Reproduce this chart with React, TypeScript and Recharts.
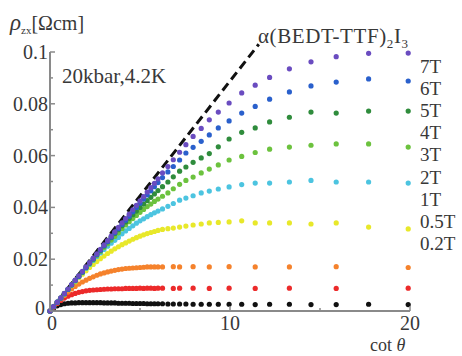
import React from 'react';
import {
  ComposedChart, Scatter, XAxis, YAxis, ReferenceLine,
} from 'recharts';

// cot(theta) positions of the measured points (shared by every field)
const cotTheta = [
  0, 0.2, 0.4, 0.6, 0.8, 1.0, 1.2, 1.4, 1.6, 1.8,
  2.0, 2.2, 2.4, 2.6, 2.8, 3.0, 3.2, 3.4, 3.6, 3.8,
  4.0, 4.2, 4.4, 4.6, 4.8, 5.0, 5.2, 5.4, 5.6, 5.8,
  6.0, 6.25, 6.55, 6.85, 7.2, 7.55, 7.95, 8.4, 8.85, 9.35,
  9.95, 10.65, 11.4, 12.2, 13.3, 14.5, 15.9, 17.7, 19.9,
];

// rho_zx [Ohm cm] for each field, same order as cotTheta (null = no point)
const rho7T = [
  0, 0.0017, 0.0034, 0.0051, 0.0068, 0.0085, 0.0102, 0.0119, 0.0136, 0.0153,
  0.017, 0.0187, 0.0204, 0.0221, 0.0238, 0.0255, 0.0272, 0.0289, 0.0306, 0.0323,
  0.034, 0.0357, 0.0374, 0.0391, 0.0408, 0.0425, 0.0442, 0.0459, 0.0476, 0.0493,
  0.051, 0.0533, 0.0558, 0.0584, 0.0613, 0.0642, 0.0674, 0.0705, 0.0738, 0.0768,
  0.0803, 0.0842, 0.0872, 0.0902, 0.0935, 0.0962, 0.0982, 0.0995, 0.0996,
];
const rho6T = [
  0, 0.0017, 0.0034, 0.005, 0.0067, 0.0084, 0.0101, 0.0118, 0.0134, 0.0151,
  0.0168, 0.0185, 0.0201, 0.0218, 0.0235, 0.0252, 0.0268, 0.0285, 0.0302, 0.0318,
  0.0334, 0.035, 0.0366, 0.0383, 0.04, 0.0416, 0.0432, 0.0448, 0.0464, 0.048,
  0.0496, 0.0515, 0.0537, 0.0558, 0.0583, 0.061, 0.0632, 0.0655, 0.068, 0.0707,
  0.0734, 0.0764, 0.079, 0.0818, 0.0846, 0.0869, 0.0884, 0.0896, 0.0888,
];
const rho5T = [
  0, 0.0017, 0.0034, 0.005, 0.0067, 0.0084, 0.0101, 0.0118, 0.0134, 0.0151,
  0.0168, 0.0185, 0.0201, 0.0218, 0.0235, 0.0251, 0.0267, 0.0283, 0.0299, 0.0314,
  0.0329, 0.0344, 0.0358, 0.0372, 0.0386, 0.04, 0.0413, 0.0426, 0.0439, 0.0452,
  0.0465, 0.048, 0.0498, 0.0518, 0.054, 0.0556, 0.0574, 0.0591, 0.0608, 0.0634,
  0.0664, 0.069, 0.0707, 0.073, 0.0748, 0.0768, 0.0764, 0.0772, 0.0772,
];
const rho4T = [
  0, 0.0017, 0.0033, 0.005, 0.0067, 0.0083, 0.01, 0.0116, 0.0133, 0.0149,
  0.0166, 0.0182, 0.0198, 0.0214, 0.023, 0.0245, 0.026, 0.0274, 0.0288, 0.0302,
  0.0318, 0.0332, 0.0345, 0.0357, 0.0369, 0.0381, 0.0392, 0.0403, 0.0413, 0.0423,
  0.0432, 0.0443, 0.0456, 0.0472, 0.0489, 0.0504, 0.0517, 0.0533, 0.0548, 0.0564,
  0.0583, 0.0597, 0.0612, 0.0625, 0.0633, 0.064, 0.0645, 0.0645, 0.0633,
];
const rho3T = [
  0, 0.0017, 0.0033, 0.005, 0.0066, 0.0083, 0.0099, 0.0116, 0.0132, 0.0148,
  0.0164, 0.018, 0.0195, 0.021, 0.0224, 0.0237, 0.025, 0.0262, 0.0273, 0.0284,
  0.0298, 0.0309, 0.0319, 0.0329, 0.0339, 0.0348, 0.0356, 0.0364, 0.0372, 0.0379,
  0.0386, 0.0394, 0.0404, 0.0415, 0.0428, 0.0436, 0.0445, 0.0456, 0.0463, 0.0471,
  0.0479, 0.0488, 0.0494, 0.0494, 0.0498, 0.0504, 0.0498, 0.0498, 0.0494,
];
const rho2T = [
  0, 0.0017, 0.0033, 0.005, 0.0066, 0.0082, 0.0098, 0.0113, 0.0128, 0.0142,
  0.0155, 0.0168, 0.018, 0.0191, 0.0202, 0.0212, 0.0222, 0.0231, 0.024, 0.0248,
  0.0256, 0.0263, 0.027, 0.0277, 0.0283, 0.0289, 0.0294, 0.0299, 0.0303, 0.0307,
  0.0311, 0.0315, 0.0318, 0.032, 0.0324, 0.0328, 0.0332, 0.0336, 0.034, 0.0342,
  0.0344, 0.0348, 0.034, 0.034, 0.034, 0.0336, 0.034, 0.0324, 0.0317,
];
const rho1T = [
  0, 0.0016, 0.0032, 0.0047, 0.006, 0.0073, 0.0085, 0.0095, 0.0104, 0.0112,
  0.0119, 0.0126, 0.0132, 0.0138, 0.0143, 0.0147, 0.0151, 0.0154, 0.0157, 0.016,
  0.0162, 0.0164, 0.0165, 0.0166, 0.0167, 0.0168, 0.0169, 0.017, 0.017, 0.017,
  0.017, 0.017, null, 0.0171, 0.017, null, 0.0171, null, 0.017, null,
  0.0171, null, 0.017, null, 0.017, null, 0.0171, null, 0.0168,
];
const rho05T = [
  0, 0.0015, 0.0029, 0.0041, 0.005, 0.0057, 0.0063, 0.0068, 0.0072, 0.0075,
  0.0078, 0.008, 0.0081, 0.0082, 0.0083, 0.0084, 0.0085, 0.0085, 0.0086, 0.0086,
  0.0086, 0.0087, 0.0087, 0.0087, 0.0087, 0.0088, 0.0087, 0.0088, 0.0088, 0.0087,
  0.0088, 0.0088, null, 0.0087, 0.0088, null, 0.0088, null, 0.0087, null,
  0.0088, null, 0.0087, null, 0.0088, null, 0.0087, null, 0.0088,
];
const rho02T = [
  0, 0.0012, 0.002, 0.0025, 0.0028, 0.003, 0.0031, 0.0031, 0.0032, 0.0032,
  0.0032, 0.0032, 0.0032, 0.0032, 0.0032, 0.0031, 0.0031, 0.0031, 0.0031, 0.003,
  0.003, 0.003, 0.003, 0.0029, 0.0029, 0.0029, 0.0029, 0.0028, 0.0028, 0.0028,
  0.0028, 0.0028, 0.0027, 0.0027, 0.0027, 0.0027, 0.0026, 0.0026, 0.0026, 0.0026,
  0.0026, 0.0026, 0.0025, 0.0026, 0.0026, 0.0025, 0.0025, 0.0026, 0.0025,
];

const fieldLabels = ['7T', '6T', '5T', '4T', '3T', '2T', '1T', '0.5T', '0.2T'];
const fieldColors = ['#6a4cc0', '#2a60cc', '#2f8c3c', '#6cc23e', '#4cc4e0', '#e8e82a', '#f5822c', '#ec2a2a', '#111111'];
const fieldValues = [rho7T, rho6T, rho5T, rho4T, rho3T, rho2T, rho1T, rho05T, rho02T];

const xTicks = [0, 5, 10, 15, 20];
const xTickLabels = ['0', '', '10', '', '20'];
const yTicks = [0, 0.01, 0.02, 0.03, 0.04, 0.05, 0.06, 0.07, 0.08, 0.09, 0.1];
const yTickLabels = ['0', '', '0.02', '', '0.04', '', '0.06', '', '0.08', '', '0.1'];

// dashed reference (slope of the low-field limit)
const limitLine = [{ x: 0, y: 0 }, { x: 11.6, y: 0.103 }];

const FONT = '"Liberation Serif", "Times New Roman", serif';
const TEXT = '#383838';
const AXIS = '#8a8a8a';
const FS = 20;

const series = fieldLabels.map((label, i) => ({
  label,
  color: fieldColors[i],
  data: cotTheta
    .map((x, j) => ({ x, y: fieldValues[i][j] }))
    .filter((p) => p.y !== null),
}));

const BottomTick = (props: any) => {
  const { x, y, payload } = props;
  const label = xTickLabels[xTicks.indexOf(payload.value)];
  const major = label !== '';
  return (
    <g>
      <line x1={x} x2={x} y1={y} y2={y - (major ? 5 : 3)} stroke={AXIS} strokeWidth={1.5} />
      {major && (
        <text x={x + (payload.value === 0 ? 2 : 0)} y={y + 19} textAnchor="middle" fontFamily={FONT} fontSize={FS} fill={TEXT}>
          {label}
        </text>
      )}
    </g>
  );
};

const TopTick = (props: any) => {
  const { x, y, payload } = props;
  const major = xTickLabels[xTicks.indexOf(payload.value)] !== '';
  return <line x1={x} x2={x} y1={y} y2={y + (major ? 5 : 3)} stroke={AXIS} strokeWidth={1.5} />;
};

const LeftTick = (props: any) => {
  const { x, y, payload } = props;
  const label = yTickLabels[yTicks.indexOf(payload.value)];
  const major = label !== '';
  return (
    <g>
      <line x1={x} x2={x + (major ? 5 : 3)} y1={y} y2={y} stroke={AXIS} strokeWidth={1.5} />
      {major && (
        <text x={x - (payload.value === 0 ? 5 : 2)} y={y + (payload.value === 0 ? 4 : 7)} textAnchor="end" fontFamily={FONT} fontSize={FS} fill={TEXT}>
          {label}
        </text>
      )}
    </g>
  );
};

const RightTick = (props: any) => {
  const { x, y, payload } = props;
  const major = yTickLabels[yTicks.indexOf(payload.value)] !== '';
  return <line x1={x} x2={x - (major ? 5 : 3)} y1={y} y2={y} stroke={AXIS} strokeWidth={1.5} />;
};

export default function App() {
  return (
    <div style={{ position: 'absolute', left: 0, top: 0, width: 462, height: 356, background: '#fff' }}>
      <ComposedChart width={462} height={356} margin={{ top: 52, right: 52, bottom: 0, left: 0 }}>
        <XAxis
          xAxisId="b" type="number" dataKey="x" domain={[0, 20]} ticks={xTicks} interval={0}
          height={45} tickSize={0} tickMargin={0} tick={<BottomTick />}
          axisLine={{ stroke: AXIS, strokeWidth: 2 }}
        />
        <XAxis
          xAxisId="t" orientation="top" type="number" dataKey="x" domain={[0, 20]} ticks={xTicks} interval={0}
          height={0} tickSize={0} tickMargin={0} tick={<TopTick />}
          axisLine={{ stroke: AXIS, strokeWidth: 2 }}
        />
        <YAxis
          yAxisId="l" type="number" dataKey="y" domain={[0, 0.1]} ticks={yTicks} interval={0}
          width={50} tickSize={0} tickMargin={0} tick={<LeftTick />}
          axisLine={{ stroke: AXIS, strokeWidth: 2 }}
        />
        <YAxis
          yAxisId="r" orientation="right" type="number" dataKey="y" domain={[0, 0.1]} ticks={yTicks} interval={0}
          width={0} tickSize={0} tickMargin={0} tick={<RightTick />}
          axisLine={{ stroke: AXIS, strokeWidth: 2 }}
        />
        {series.slice().reverse().map((s) => (
          <Scatter
            key={s.label}
            name={s.label}
            data={s.data}
            xAxisId="b"
            yAxisId="l"
            isAnimationActive={false}
            shape={(p: any) => <circle cx={p.cx} cy={p.cy} r={2.6} fill={s.color} />}
          />
        ))}
        <ReferenceLine
          xAxisId="b"
          yAxisId="l"
          segment={limitLine}
          ifOverflow="visible"
          stroke="#111"
          strokeWidth={3}
          strokeDasharray="9 5"
        />
      </ComposedChart>

      <svg width={462} height={356} style={{ position: 'absolute', left: 0, top: 0, pointerEvents: 'none' }}>
        <text x={10} y={30} fontFamily={FONT} fill={TEXT}>
          <tspan fontSize={23} fontStyle="italic">ρ</tspan>
          <tspan fontSize={11} dy={4}>zx</tspan>
          <tspan fontSize={FS} dy={-4}>[Ωcm]</tspan>
        </text>
        <text x={62} y={83} fontFamily={FONT} fontSize={21} fill={TEXT}>20kbar,4.2K</text>
        <text x={258} y={43} fontFamily={FONT} fontSize={21} fill={TEXT} letterSpacing={0.6}>
          α(BEDT-TTF)<tspan fontSize={13} dy={5}>2</tspan>
          <tspan dy={-5}>I</tspan>
          <tspan fontSize={13} dy={5}>3</tspan>
        </text>
        {fieldLabels.map((label, i) => (
          <text key={label} x={420} y={73 + i * 22.1} fontFamily={FONT} fontSize={19} fill={TEXT}>
            {label}
          </text>
        ))}
        <text x={370} y={351} fontFamily={FONT} fontSize={18} fill={TEXT}>
          cot <tspan fontStyle="italic">θ</tspan>
        </text>
      </svg>
    </div>
  );
}
